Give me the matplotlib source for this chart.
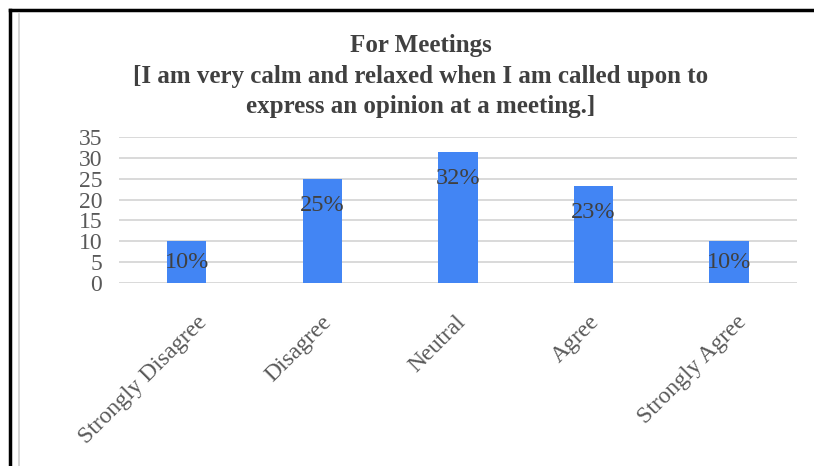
import matplotlib.pyplot as plt
import matplotlib.transforms as mtransforms
from matplotlib.lines import Line2D

plt.rcParams['font.family'] = ['Liberation Serif', 'DejaVu Serif']

categories = ['Strongly Disagree', 'Disagree', 'Neutral', 'Agree', 'Strongly Agree']
responses = [10, 25, 31.5, 23.3, 10]
yticks = [0, 5, 10, 15, 20, 25, 30, 35]

title = ('For Meetings\n[I am very calm and relaxed when I am called upon to\n'
         'express an opinion at a meeting.]')

bar_color = '#4285F4'
grid_color = '#d9d9d9'
tick_color = '#595959'

fig = plt.figure(figsize=(8.14, 4.66), dpi=100)
ax = fig.add_axes([0.1462, 0.3927, 0.8328, 0.3133])

x = range(len(categories))
bars = ax.bar(x, responses, width=0.29, color=bar_color, zorder=3)

# percentage labels sit just inside the top of each bar
for i, v in enumerate(responses):
    ax.text(i, max(v - 6.5, v / 2), f'{round(v)}%', ha='center', va='center',
            fontsize=17.5, color='#404040', zorder=4)

ax.set_xlim(-0.5, len(categories) - 0.5)
ax.set_ylim(0, 35)
ax.set_yticks(yticks)
ax.yaxis.grid(True, color=grid_color, lw=1.4, zorder=0)
ax.tick_params(axis='y', length=0, pad=12, labelsize=17, labelcolor=tick_color)
ax.tick_params(axis='x', length=0, pad=0)
for s in ax.spines.values():
    s.set_visible(False)

ax.set_xticks(list(x))
ax.set_xticklabels(categories, rotation=45, ha='right', va='center',
                   rotation_mode='anchor', fontsize=17, color=tick_color)

# longer rotated labels are pushed a little further right of their tick
fig.canvas.draw()
renderer = fig.canvas.get_renderer()
for lab in ax.get_xticklabels():
    w = lab.get_window_extent(renderer).width
    dx = 0.18 * w - 7
    offset = mtransforms.ScaledTranslation(dx / 100, -36 / 100, fig.dpi_scale_trans)
    lab.set_transform(lab.get_transform() + offset)

fig.text(0.517, 0.927, title, ha='center', va='top', fontsize=18,
         fontweight='bold', color='#404040', linespacing=1.42)

# outer frame: black edge on the top and left, thin grey chart border inside
W, H = 814, 466
fig.add_artist(Line2D([10 / W, 10 / W], [0, 1 - 10 / H], color='black', lw=2.5,
                      transform=fig.transFigure))
fig.add_artist(Line2D([10 / W, 1], [1 - 10 / H, 1 - 10 / H], color='black', lw=2.5,
                      transform=fig.transFigure))
fig.add_artist(Line2D([19 / W, 19 / W], [0, 1 - 14 / H], color='#d0d0d0', lw=1.2,
                      transform=fig.transFigure))

fig.savefig('out.png', dpi=100)
